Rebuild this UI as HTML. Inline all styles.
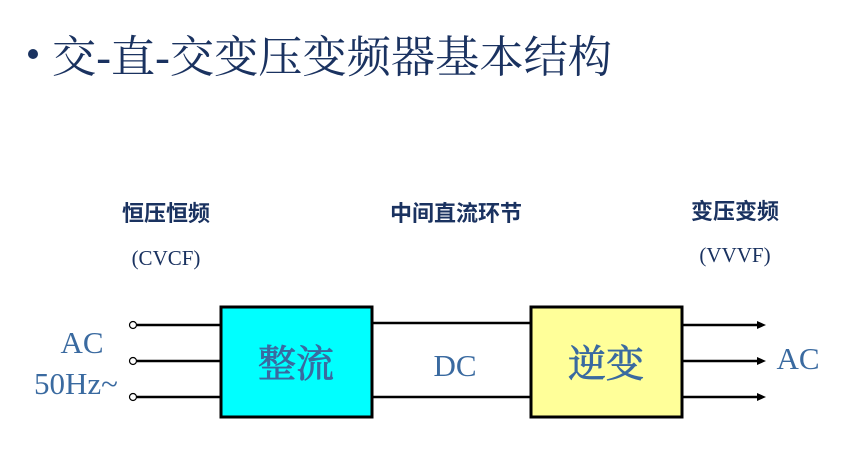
<!DOCTYPE html>
<html><head><meta charset="utf-8"><style>
html,body{margin:0;padding:0;background:#fff;}
svg{display:block}
</style></head><body>
<svg width="855" height="451" xmlns="http://www.w3.org/2000/svg">
<circle cx="33" cy="54" r="5" fill="#1a3260"/>
<text x="52" y="72" font-family="'Liberation Serif','Noto Serif CJK SC',serif" font-size="44" fill="#1a3260" textLength="560" lengthAdjust="spacingAndGlyphs">交-直-交变压变频器基本结构</text>
<g font-family="'Liberation Sans','Noto Sans CJK SC',sans-serif" font-weight="bold" font-size="22" fill="#1a3260" text-anchor="middle">
<text x="166" y="221">恒压恒频</text>
<text x="456" y="221">中间直流环节</text>
<text x="735" y="219">变压变频</text>
</g>
<g font-family="'Liberation Serif',serif" font-size="21" fill="#1a3260" text-anchor="middle">
<text x="166" y="265">(CVCF)</text>
<text x="735" y="262">(VVVF)</text>
</g>
<g stroke="#000" stroke-width="2.5" fill="none">
<line x1="137" y1="325" x2="220" y2="325"/>
<line x1="137" y1="361" x2="220" y2="361"/>
<line x1="137" y1="397" x2="220" y2="397"/>
<line x1="372" y1="323" x2="530" y2="323"/>
<line x1="372" y1="397" x2="530" y2="397"/>
<line x1="682" y1="325" x2="758" y2="325"/>
<line x1="682" y1="361" x2="758" y2="361"/>
<line x1="682" y1="397" x2="758" y2="397"/>
</g>
<g fill="#fff" stroke="#000" stroke-width="1.2">
<circle cx="133" cy="325" r="3.5"/><circle cx="133" cy="361" r="3.5"/><circle cx="133" cy="397" r="3.5"/>
</g>
<g fill="#000">
<polygon points="766,325 757,321 757,329"/>
<polygon points="766,361 757,357 757,365"/>
<polygon points="766,397 757,393 757,401"/>
</g>
<rect x="221" y="307" width="151" height="110" fill="#00ffff" stroke="#000" stroke-width="3"/>
<rect x="531" y="307" width="151" height="110" fill="#ffff99" stroke="#000" stroke-width="3"/>
<g font-family="'Liberation Serif','Noto Serif CJK SC',serif" fill="#3a6aa0">
<text x="296" y="377" font-size="38" stroke="#3a6aa0" stroke-width="0.8" text-anchor="middle">整流</text>
<text x="606" y="377" font-size="38" stroke="#3a6aa0" stroke-width="0.8" text-anchor="middle">逆变</text>
<text x="455" y="376" font-size="31" text-anchor="middle">DC</text>
<text x="82" y="353" font-size="31" text-anchor="middle">AC</text>
<text x="76" y="394" font-size="31" text-anchor="middle">50Hz~</text>
<text x="798" y="369" font-size="31" text-anchor="middle">AC</text>
</g>
</svg>
</body></html>
